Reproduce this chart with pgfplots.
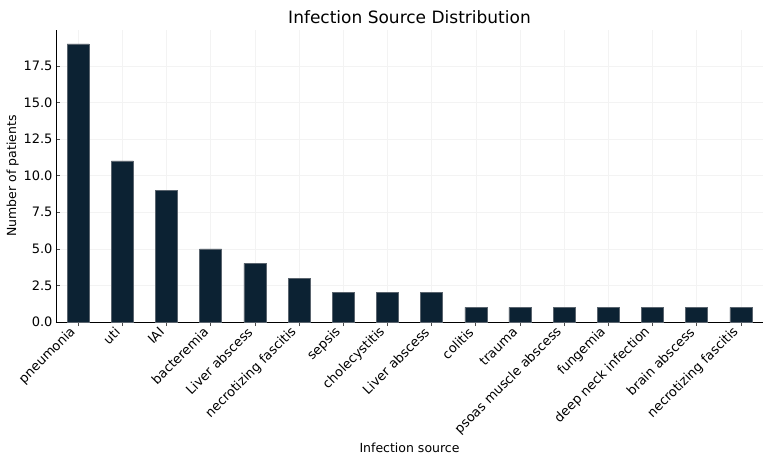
\documentclass[border=0pt]{standalone}
\usepackage{pgfplots}
\pgfplotsset{compat=1.18}
\usepackage{fontspec}
\setmainfont{DejaVu Sans}
\definecolor{barnavy}{HTML}{0C2233}
\definecolor{baredge}{HTML}{5A646E}
\definecolor{gridgray}{HTML}{F3F3F3}
\begin{document}
\begin{tikzpicture}
\useasboundingbox (-56bp,-135bp) rectangle (712bp,322bp);
\begin{axis}[
  at={(0,0)}, anchor=south west,
  scale only axis,
  width=707bp, height=292bp,
  xmin=-0.5, xmax=15.5,
  ymin=0, ymax=19.95,
  axis lines*=left,
  axis line style={black, line width=0.9pt},
  ytick={0,2.5,...,17.5},
  xtick={0,...,15},
  xticklabels={pneumonia,uti,IAI,bacteremia,Liver abscess,necrotizing fascitis,sepsis,cholecystitis,Liver abscess,colitis,trauma,psoas muscle abscess,fungemia,deep neck infection,brain abscess,necrotizing fascitis},
  /pgf/number format/assume math mode=true,
  yticklabel style={/pgf/number format/.cd, fixed, fixed zerofill, precision=1},
  tick align=inside,
  tick style={color=black!70, line width=0.6pt},
  major tick length=4bp,
  grid=major,
  grid style={gridgray, line width=0.5pt},
  ticklabel style={font=\fontsize{13bp}{15bp}\selectfont},
  xticklabel style={xshift=-4bp, yshift=-3bp, rotate=45, anchor=east, inner sep=1bp},
  label style={font=\fontsize{12.5bp}{14bp}\selectfont},
  xlabel={Infection source},
  ylabel={Number of patients},
  xlabel style={at={(axis description cs:0.5,0)}, anchor=base, yshift=-130bp},
  ylabel style={yshift=-2bp},
  title={Infection Source Distribution},
  title style={font=\fontsize{17bp}{19bp}\selectfont, yshift=-3bp},
  ybar, bar width=22bp,
  clip=false,
]
\addplot[fill=barnavy, draw=baredge, line width=0.5pt] coordinates {
  (0,19) (1,11) (2,9) (3,5) (4,4) (5,3) (6,2) (7,2)
  (8,2) (9,1) (10,1) (11,1) (12,1) (13,1) (14,1) (15,1)
};
\end{axis}
\end{tikzpicture}
\end{document}
